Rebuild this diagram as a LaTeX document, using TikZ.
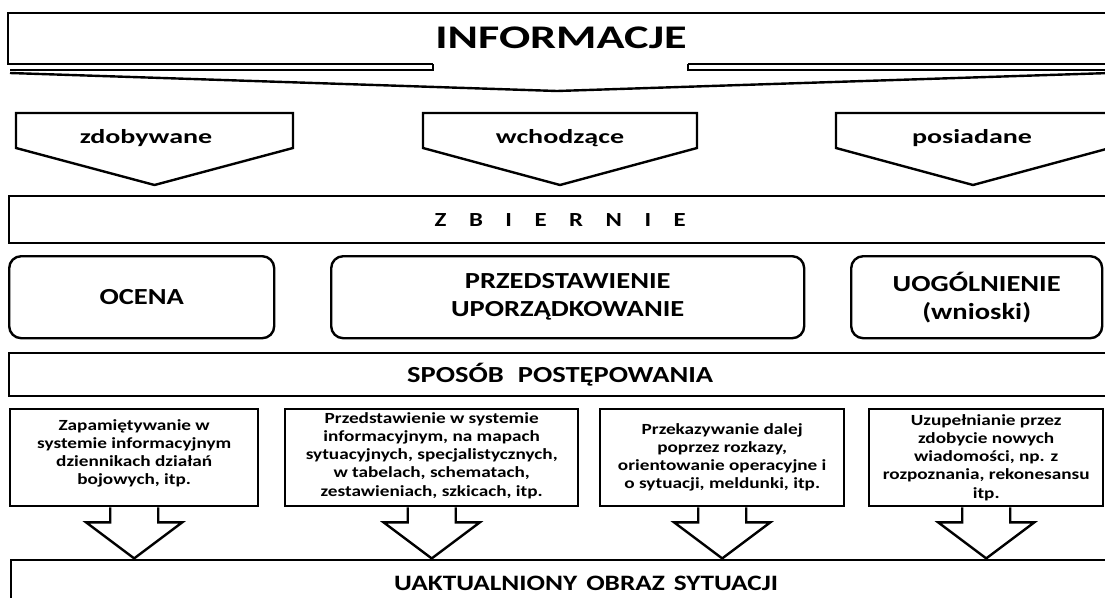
\documentclass[tikz,border=0pt]{standalone}
\usepackage{fontspec}
\setmainfont{Carlito}
\newfontfamily\wideA[FakeStretch=1.4]{Carlito}
\newfontfamily\wideB[FakeStretch=1.24]{Carlito}
\usetikzlibrary{positioning}

\begin{document}
\begin{tikzpicture}[x=1pt,y=-1pt,line width=2.4pt,
  bar/.style={draw,anchor=north west,minimum width=1102pt,inner sep=0pt},
  rbox/.style={draw,rounded corners=12pt,anchor=north west,minimum height=82pt,align=center,
    font=\wideB\bfseries\fontsize{23}{28}\selectfont},
  sbox/.style={draw,anchor=north west,minimum height=97pt},
  stxt/.style={align=center,inner sep=0pt,font=\wideB\bfseries\fontsize{15.5}{18.3}\selectfont},
  ctxt/.style={font=\wideA\bfseries\fontsize{20}{24}\selectfont}]
\useasboundingbox (0,0) rectangle (1105,597);
\clip (0,0) rectangle (1105,597);

% informacje
\draw (433,64) -- (8,64) -- (8,13) -- (1110,13);
\draw (1110,64) -- (688,64);
\draw (433,64) -- (433,70) -- (10,70);
\draw (688,64) -- (688,70) -- (1110,70);
\draw (10,73) -- (557,91) -- (1110,73);
\node[font=\wideA\bfseries\fontsize{33}{40}\selectfont] (info) at (561,38) {INFORMACJE};

% rodzaje
\foreach \l/\r/\x/\t [count=\i] in {16/293/146/zdobywane,423/697/560/wchodzące,836/1110/972/posiadane}{
  \draw (\l,113) -- (\r,113) -- (\r,148) -- ({(\l+\r)/2},185) -- (\l,148) -- cycle;
  \node[ctxt] (ch\i) at (\x,138) {\t};
}

\node[bar,minimum height=47pt,font=\wideB\bfseries\fontsize{20}{24}\selectfont] (zbier) at (8,195)
  {Z\hspace{22.5pt}B\hspace{22.5pt}I\hspace{22.5pt}E\hspace{22.5pt}R\hspace{22.5pt}N\hspace{22.5pt}I\hspace{22.5pt}E};

\node[rbox,minimum width=265pt] (ocena) at (8,255) {OCENA};
\node[rbox,minimum width=473pt] (przed) at (330,255) {PRZEDSTAWIENIE\\UPORZĄDKOWANIE};
\node[rbox,minimum width=251pt] (uogol) at (850,255) {UOGÓLNIENIE\\(wnioski)};

\node[bar,minimum height=43pt,font=\wideB\bfseries\fontsize{23}{27}\selectfont] (sposob) at (8,352)
  {SPOSÓB\hspace{14pt}POSTĘPOWANIA};

% sposoby
\node[sbox,minimum width=248pt] (k1) at (9,408) {};
\node[sbox,minimum width=293pt] (k2) at (284,408) {};
\node[sbox,minimum width=244pt] (k3) at (599,408) {};
\node[sbox,minimum width=234pt] (k4) at (868,408) {};
\node[stxt,below=10pt of k1.north] (t1) {Zapamiętywanie w\\systemie informacyjnym\\dziennikach działań\\bojowych, itp.};
\node[stxt,below=3pt of k2.north] (t2) {Przedstawienie w systemie\\informacyjnym, na mapach\\sytuacyjnych, specjalistycznych,\\w tabelach, schematach,\\zestawieniach, szkicach, itp.};
\node[stxt,below=14pt of k3.north] (t3) {Przekazywanie dalej\\poprzez rozkazy,\\orientowanie operacyjne i\\o sytuacji, meldunki, itp.};
\node[stxt,below=5pt of k4.north] (t4) {Uzupełnianie przez\\zdobycie nowych\\wiadomości, np. z\\rozpoznania, rekonesansu\\itp.};

\foreach \k in {k1,k2,k3,k4}
  \draw ([xshift=-24pt]\k.south) -- ++(0,15) -- ++(-24,0) -- ++(48,36) -- ++(48,-36) -- ++(-24,0) -- ++(0,-15);

\node[bar,minimum width=1150pt,minimum height=46pt,font=\wideB\bfseries\fontsize{22}{26}\selectfont] (obraz) at (10,559)
  {UAKTUALNIONY\hspace{9pt}OBRAZ\hspace{9pt}SYTUACJI};
\end{tikzpicture}
\end{document}
